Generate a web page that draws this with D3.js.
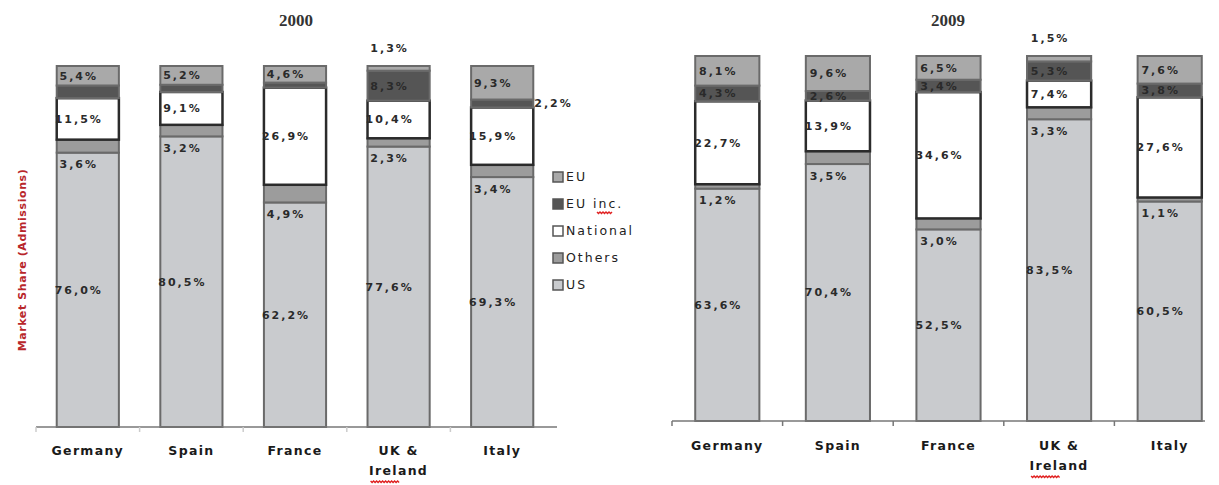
<!DOCTYPE html>
<html>
  <head>
    <meta charset="utf-8">
    <script src="https://d3js.org/d3.v7.min.js"></script>
    <style>
    body {
      margin: 0;
      background: #fff;
    }
    text {
      font-family: "DejaVu Sans", sans-serif;
      fill: #333;
    }
    .title {
      font-family: "Liberation Serif", serif;
      font-weight: bold;
      font-size: 17px;
    }
    .val {
      font-size: 11px;
      font-weight: bold;
      letter-spacing: 2px;
      fill: #2a2a2a;
    }
    .cat text {
      font-size: 12.5px;
      font-weight: bold;
      letter-spacing: 1.3px;
      fill: #1a1a1a;
    }
  </style>
  </head>
  <body>
    <svg id="chart" width="1219" height="485"></svg>
    <script>
    var countries = ["Germany", "Spain", "France", "UK & Ireland", "Italy"];
    var keys = ["US", "Others", "National", "EU inc.", "EU"];   // bottom to top
    var legendKeys = ["EU", "EU inc.", "National", "Others", "US"];

    var us2000 = [76.0, 80.5, 62.2, 77.6, 69.3];
    var others2000 = [3.6, 3.2, 4.9, 2.3, 3.4];
    var national2000 = [11.5, 9.1, 26.9, 10.4, 15.9];
    var euInc2000 = [3.5, 2.0, 1.4, 8.3, 2.2];
    var eu2000 = [5.4, 5.2, 4.6, 1.3, 9.3];

    var us2009 = [63.6, 70.4, 52.5, 83.5, 60.5];
    var others2009 = [1.2, 3.5, 3.0, 3.3, 1.1];
    var national2009 = [22.7, 13.9, 34.6, 7.4, 27.6];
    var euInc2009 = [4.3, 2.6, 3.4, 5.3, 3.8];
    var eu2009 = [8.1, 9.6, 6.5, 1.5, 7.6];

    // segments the original leaves without a number
    var unlabeled2000 = ["EU inc.|Germany", "EU inc.|Spain", "EU inc.|France"];
    var unlabeled2009 = [];

    var colors = {
      "US": "#c9cbce",
      "Others": "#9c9c9c",
      "National": "#ffffff",
      "EU inc.": "#555555",
      "EU": "#a9a9a9"
    };

    function buildRows(us, others, national, euInc, eu) {
      return countries.map(function (c, i) {
        return {country: c, "US": us[i], "Others": others[i], "National": national[i], "EU inc.": euInc[i], "EU": eu[i]};
      });
    }

    var fmt = d3.format(".1f");
    function pct(v) { return fmt(v).replace(".", ",") + "%"; }

    function squiggle(x0, y0, w) {
      var p = "M" + x0 + "," + y0;
      for (var i = 0; i < w; i += 3) p += " l1.5," + (i % 6 ? -1.5 : 1.5);
      return p;
    }

    var svg = d3.select("#chart");

    function drawPanel(cfg) {
      var rows = buildRows.apply(null, cfg.data);
      var g = svg.append("g");

      var x = d3.scaleBand().domain(countries).range(cfg.xRange);
      var y = d3.scaleLinear().domain([0, 1]).range([cfg.bottom, cfg.top]);
      var bw = x.step() * cfg.barFrac;
      var series = d3.stack().keys(keys).offset(d3.stackOffsetExpand)(rows);

      g.append("text")
        .attr("class", "title")
        .attr("x", cfg.titleX)
        .attr("y", 26)
        .attr("text-anchor", "middle")
        .text(cfg.title);

      // bars
      series.forEach(function (s) {
        g.selectAll(null)
          .data(s)
          .enter().append("rect")
          .attr("x", function (d) { return x(d.data.country) + (x.step() - bw) / 2; })
          .attr("y", function (d) { return y(d[1]); })
          .attr("width", bw)
          .attr("height", function (d) { return y(d[0]) - y(d[1]); })
          .attr("fill", colors[s.key])
          .attr("stroke", s.key === "National" ? "#2b2b2b" : "#6a6a6a")
          .attr("stroke-width", s.key === "National" ? 2.5 : 2);
      });

      // value labels
      series.forEach(function (s) {
        s.forEach(function (d) {
          var c = d.data.country;
          if (cfg.unlabeled.indexOf(s.key + "|" + c) >= 0) return;
          var cx = x(c) + x.step() / 2 - 9;
          var y0 = y(d[0]), y1 = y(d[1]);
          var h = y0 - y1;
          var ly = (y0 + y1) / 2, lx = cx, anchor = "middle";
          if (s.key === "Others") {
            ly = y0 + 12;
          } else if (s.key === "EU" && h < 7) {
            ly = y1 - 18;
          } else if (s.key === "EU inc." && h < 9) {
            lx = x(c) + (x.step() + bw) / 2 + 1;
            anchor = "start";
          }
          g.append("text")
            .attr("class", "val")
            .attr("x", lx)
            .attr("y", ly)
            .attr("dy", "0.35em")
            .attr("text-anchor", anchor)
            .text(pct(d.data[s.key]));
        });
      });

      // category axis
      var axis = g.append("g")
        .attr("class", "cat")
        .attr("transform", "translate(0," + cfg.bottom + ")")
        .call(d3.axisBottom(x).tickSize(0).tickPadding(cfg.pad));
      axis.select(".domain").remove();
      axis.selectAll(".tick text").each(function (t) {
        var parts = t.split(" & ");
        if (parts.length < 2) return;
        var el = d3.select(this).text(null);
        el.append("tspan").attr("x", 0).text(parts[0] + " &");
        el.append("tspan").attr("x", 0).attr("dy", "1.6em").text(parts[1]);
      });
      // red spell-check squiggle under "Ireland"
      axis.selectAll(".tick").filter(function (t) { return t.indexOf("&") >= 0; })
        .append("path")
        .attr("d", squiggle(-28, cfg.pad + 35, 57))
        .attr("fill", "none")
        .attr("stroke", "#e02020")
        .attr("stroke-width", 1.4);

      g.append("line")
        .attr("x1", cfg.xRange[0]).attr("x2", cfg.axisEnd)
        .attr("y1", cfg.bottom).attr("y2", cfg.bottom)
        .attr("stroke", "#777").attr("stroke-width", 1.5);
      g.selectAll(null)
        .data(countries)
        .enter().append("line")
        .attr("x1", function (c) { return x(c); })
        .attr("x2", function (c) { return x(c); })
        .attr("y1", cfg.bottom)
        .attr("y2", cfg.bottom + 5)
        .attr("stroke", cfg.tickColor)
        .attr("stroke-width", 1.5);
    }

    drawPanel({
      title: "2000", titleX: 296,
      data: [us2000, others2000, national2000, euInc2000, eu2000],
      unlabeled: unlabeled2000,
      xRange: [36, 554], axisEnd: 557, top: 66, bottom: 427, barFrac: 0.6, pad: 19,
      tickColor: "#ccc"
    });
    drawPanel({
      title: "2009", titleX: 948,
      data: [us2009, others2009, national2009, euInc2009, eu2009],
      unlabeled: unlabeled2009,
      xRange: [672, 1225], axisEnd: 1205, top: 56, bottom: 421, barFrac: 0.58, pad: 20,
      tickColor: "#777"
    });

    // y axis title
    svg.append("text")
      .attr("transform", "translate(22,260) rotate(-90)")
      .attr("text-anchor", "middle")
      .attr("dy", "0.35em")
      .style("font-size", "11px")
      .style("font-weight", "bold")
      .style("letter-spacing", "0.6px")
      .style("fill", "#b8262b")
      .text("Market Share (Admissions)");

    // legend
    var legend = svg.append("g").attr("transform", "translate(553,177)");
    legendKeys.forEach(function (k, i) {
      var row = legend.append("g").attr("transform", "translate(0," + (i * 27) + ")");
      row.append("rect")
        .attr("x", 0).attr("y", -5)
        .attr("width", 10).attr("height", 10)
        .attr("fill", colors[k])
        .attr("stroke", "#555").attr("stroke-width", 1.5);
      row.append("text")
        .attr("x", 13)
        .attr("dy", "0.35em")
        .style("font-size", "12.5px")
        .style("letter-spacing", "2px")
        .style("fill", "#222")
        .text(k);
      if (k === "EU inc.") {
        row.append("path")
          .attr("d", squiggle(44, 8, 30))
          .attr("fill", "none")
          .attr("stroke", "#e02020")
          .attr("stroke-width", 1.4);
      }
    });
  </script>
  </body>
</html>
